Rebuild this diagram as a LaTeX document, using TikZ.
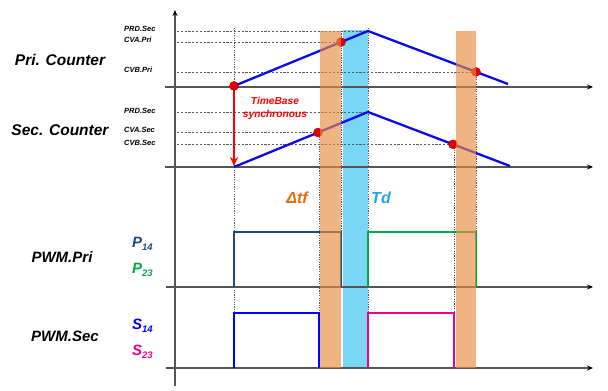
\documentclass[tikz,border=0pt]{standalone}
\usepackage{fontspec}
\setmainfont{Liberation Sans}
\usetikzlibrary{arrows.meta}
\definecolor{rampblue}{RGB}{10,10,235}
\definecolor{bandorange}{RGB}{232,140,63}
\definecolor{bandblue}{RGB}{122,214,245}
\definecolor{navyp}{RGB}{31,73,125}
\definecolor{greenp}{RGB}{0,170,70}
\definecolor{dtorange}{RGB}{228,108,10}
\definecolor{tdblue}{RGB}{30,170,225}
\definecolor{axisgray}{RGB}{85,85,85}
\definecolor{guidegray}{RGB}{90,90,90}
\begin{document}
\begin{tikzpicture}[x=1pt,y=-1pt,
  axisline/.style={draw=axisgray, line width=1.1pt, -{Stealth[length=6pt,width=5pt,black]}},
  hguide/.style={draw=guidegray, line width=0.7pt, dash pattern=on 2.2pt off 1.6pt},
  vguide/.style={draw=guidegray, line width=0.7pt, dash pattern=on 1.2pt off 1.2pt},
  ramp/.style={draw=rampblue, line width=2.3pt},
  cmpdot/.style={circle, fill=red!88!black, draw=red!70!black, line width=0.4pt, inner sep=0pt, minimum size=9pt},
  pulse/.style={line width=2.6pt},
  bigl/.style={font=\bfseries\itshape\fontsize{15.5}{17}\selectfont},
  smalll/.style={font=\bfseries\itshape\fontsize{7.5}{9}\selectfont, anchor=west, inner sep=0pt},
  sigl/.style={font=\bfseries\itshape\fontsize{15}{17}\selectfont, anchor=west, inner sep=0pt},
  obandstyle/.style={fill=bandorange, opacity=0.65},
  bbandstyle/.style={fill=bandblue}
]
\useasboundingbox (0,0) rectangle (608,391);
\newcommand{\subn}[1]{{\fontsize{9.5}{10}\selectfont\raisebox{-3pt}{#1}}}

% blue band (under the traces)
\path[bbandstyle] (343,30) rectangle (367.5,368);

% key coordinates
\coordinate (p0) at (234,86);
\coordinate (p1) at (368,31);
\coordinate (p2) at (508,84);
\coordinate (s0) at (234,167);
\coordinate (s1) at (368,112);
\coordinate (s2) at (510,166);
\coordinate (cvap) at (341,42.1);
\coordinate (cvbp) at (476,71.9);
\coordinate (cvas) at (318,132.5);
\coordinate (cvbs) at (453,144.3);

% vertical guides
\draw[vguide] (234,28) -- (234,368);
\draw[vguide] (341,31) -- (341,287);
\draw[vguide] (368,28) -- (368,368);
\draw[vguide] (319,132) -- (319,368);
\draw[vguide] (454,145) -- (454,368);
\draw[vguide] (476,72) -- (476,287);

% horizontal guides and labels
\draw[hguide] (177,31) -- (p1);
\draw[hguide] (177,42.1) -- (cvap);
\draw[hguide] (177,71.9) -- (cvbp);
\draw[hguide] (177,112) -- (s1);
\draw[hguide] (177,132.5) -- (cvas);
\draw[hguide] (177,144.3) -- (cvbs);
\node[smalll] (lprd1) at (124,28.5) {PRD.Sec};
\node[smalll] (lcvap) at (124,39.5) {CVA.Pri};
\node[smalll] (lcvbp) at (124,69.5) {CVB.Pri};
\node[smalll] (lprd2) at (124,110.5) {PRD.Sec};
\node[smalll] (lcvas) at (124,129.5) {CVA.Sec};
\node[smalll] (lcvbs) at (124,142.5) {CVB.Sec};

% axes
\draw[axisline] (175,386) -- (175,10);
\draw[axisline] (165,87) -- (593,87);
\draw[axisline] (165,167) -- (593,167);
\draw[axisline] (166,287) -- (593,287);
\draw[axisline] (166,368) -- (593,368);

% counters
\draw[ramp] (p0) -- (p1) -- (p2);
\draw[ramp] (s0) -- (s1) -- (s2);

% sync arrow
\draw[draw=red, line width=2.4pt, -{Stealth[length=9pt,width=8pt]}] (p0) -- (234,166);
\node[text=red, font=\bfseries\itshape\fontsize{10.2}{13}\selectfont, align=center] (tb) at (275,108) {TimeBase\\synchronous};

% compare dots
\node[cmpdot] (d0) at (p0) {};
\node[cmpdot] (d1) at (cvap) {};
\node[cmpdot] (d2) at (cvbp) {};
\node[cmpdot] (d3) at (cvas) {};
\node[cmpdot] (d4) at (cvbs) {};

% PWM pulses
\draw[pulse, draw=navyp] (234,287) -- (234,232) -- (341,232) -- (341,287);
\draw[pulse, draw=greenp] (368,287) -- (368,232) -- (476,232) -- (476,287);
\draw[pulse, draw=blue] (234,368) -- (234,313) -- (319,313) -- (319,368);
\draw[pulse, draw=magenta] (368,368) -- (368,313) -- (454,313) -- (454,368);

% orange bands (overlay)
\path[obandstyle] (320,31) rectangle (341,368);
\path[obandstyle] (456,31) rectangle (475.5,368);

% labels
\node[bigl] (lpri) at (60,60) {Pri. Counter};
\node[bigl] (lsec) at (60,130) {Sec. Counter};
\node[bigl, font=\bfseries\itshape\fontsize{15}{17}\selectfont] (lpwmp) at (62,257) {PWM.Pri};
\node[bigl, font=\bfseries\itshape\fontsize{15}{17}\selectfont] (lpwms) at (65,336) {PWM.Sec};
\node[sigl, text=navyp] (lp14) at (132,244) {P\subn{14}};
\node[sigl, text=greenp] (lp23) at (132,270) {P\subn{23}};
\node[sigl, text=blue] (ls14) at (132,326) {S\subn{14}};
\node[sigl, text=magenta] (ls23) at (132,352) {S\subn{23}};
\node[font=\bfseries\itshape\fontsize{16}{18}\selectfont, text=dtorange] (ldtf) at (297,198) {Δtf};
\node[font=\bfseries\itshape\fontsize{16}{18}\selectfont, text=tdblue] (ltd) at (381,198) {Td};
\end{tikzpicture}
\end{document}
